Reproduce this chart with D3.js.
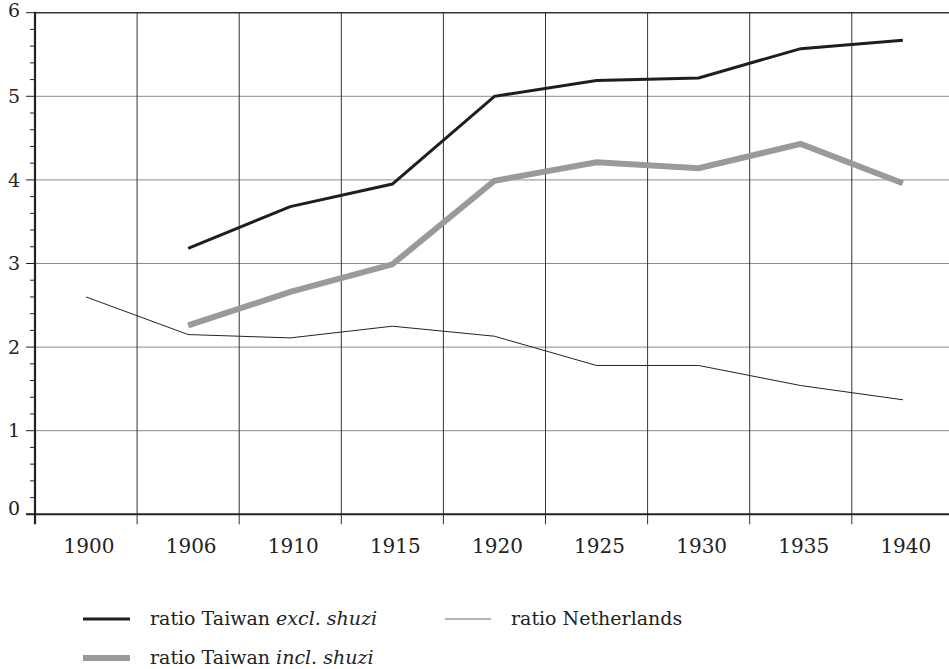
<!DOCTYPE html>
<html>
<head>
<meta charset="utf-8">
<script src="https://cdn.jsdelivr.net/npm/d3@7"></script>
<style>
  body { margin: 0; background: #fff; }
  text { font-family: "DejaVu Serif", "Liberation Serif", serif; fill: #222; }
</style>
</head>
<body>
<div id="chart"></div>
<script>
// jaren en waarden
const years = ["1900", "1906", "1910", "1915", "1920", "1925", "1930", "1935", "1940"]
const taiwanExcl = [null, 3.18, 3.68, 3.95, 5.0, 5.19, 5.22, 5.57, 5.67]
const taiwanIncl = [null, 2.26, 2.66, 2.99, 3.99, 4.21, 4.14, 4.43, 3.96]
const netherlands = [2.6, 2.15, 2.11, 2.25, 2.13, 1.78, 1.78, 1.54, 1.37]
const yTicks = [0, 1, 2, 3, 4, 5, 6]

let width = 949, height = 669
let margin = { top: 12.7, left: 35, bottom: 514.3 }

let svg = d3.select("#chart")
    .append("svg")
    .attr("width", width)
    .attr("height", height)

let x = d3.scaleBand()
    .domain(years)
    .range([margin.left, margin.left + 9 * 102.1])

let y = d3.scaleLinear()
    .domain([0, 6])
    .range([margin.bottom, margin.top])

// horizontale rasterlijnen
svg.selectAll(".hgrid")
    .data(yTicks.slice(1))
    .enter()
    .append("line")
    .attr("x1", margin.left)
    .attr("x2", width)
    .attr("y1", d => y(d))
    .attr("y2", d => y(d))
    .attr("stroke", d => d === 6 ? "#333" : "#8a8a8a")
    .attr("stroke-width", d => d === 6 ? 1.6 : 1)

// verticale lijnen op de bandgrenzen
let bounds = years.slice(1).map(d => x(d))
svg.selectAll(".vgrid")
    .data(bounds)
    .enter()
    .append("line")
    .attr("x1", d => d)
    .attr("x2", d => d)
    .attr("y1", margin.top)
    .attr("y2", margin.bottom + 10)
    .attr("stroke", "#333")
    .attr("stroke-width", 1)

// y-as met kleine streepjes
let minor = d3.range(0, 6.01, 0.2)
svg.selectAll(".ytick")
    .data(minor)
    .enter()
    .append("line")
    .attr("x1", d => Math.abs(d - Math.round(d)) < 0.01 ? margin.left - 9 : margin.left - 5)
    .attr("x2", margin.left)
    .attr("y1", d => y(d))
    .attr("y2", d => y(d))
    .attr("stroke", "#222")
    .attr("stroke-width", 1)

svg.append("line")
    .attr("x1", margin.left)
    .attr("x2", margin.left)
    .attr("y1", margin.top - 1)
    .attr("y2", margin.bottom + 10)
    .attr("stroke", "#222")
    .attr("stroke-width", 2.2)

svg.append("line")
    .attr("x1", margin.left - 9)
    .attr("x2", width)
    .attr("y1", margin.bottom)
    .attr("y2", margin.bottom)
    .attr("stroke", "#222")
    .attr("stroke-width", 2)

svg.selectAll(".ylab")
    .data(yTicks)
    .enter()
    .append("text")
    .attr("x", 14)
    .attr("y", d => y(d))
    .attr("dy", d => d === 0 ? "0.05em" : d === 6 ? "0.2em" : "0.35em")
    .attr("text-anchor", "middle")
    .style("font-size", "19px")
    .text(d => d)

svg.selectAll(".xlab")
    .data(years)
    .enter()
    .append("text")
    .attr("x", d => x(d) + x.bandwidth() / 2 + 3)
    .attr("y", 553)
    .attr("text-anchor", "middle")
    .style("font-size", "20px")
    .text(d => d)

// lijnen
let series = [
    { name: "excl", values: taiwanExcl, color: "#1e1e1e", w: 3 },
    { name: "incl", values: taiwanIncl, color: "#9a9a9c", w: 6 },
    { name: "nl", values: netherlands, color: "#222", w: 1 }
]

let line = d3.line()
    .defined(d => d.v !== null)
    .x(d => x(d.year) + x.bandwidth() / 2)
    .y(d => y(d.v))

svg.selectAll(".series")
    .data(series)
    .enter()
    .append("path")
    .attr("d", s => line(years.map((yr, i) => ({ year: yr, v: s.values[i] }))))
    .attr("fill", "none")
    .attr("stroke", s => s.color)
    .attr("stroke-width", s => s.w)
    .attr("stroke-linejoin", "miter")

// legenda
let legend = [
    { x: 83, y: 619, s: series[0], pre: "ratio Taiwan ", it: "excl. shuzi" },
    { x: 83, y: 658, s: series[1], pre: "ratio Taiwan ", it: "incl. shuzi" },
    { x: 445, y: 619, s: series[2], pre: "ratio Netherlands", it: "" }
]
let lg = svg.selectAll(".legend")
    .data(legend)
    .enter()
    .append("g")
    .attr("transform", d => "translate(" + d.x + "," + d.y + ")")

lg.append("line")
    .attr("x1", 0)
    .attr("x2", d => d.s.name === "nl" ? 46 : 47)
    .attr("y1", 0)
    .attr("y2", 0)
    .attr("stroke", d => d.s.name === "nl" ? "#666" : d.s.color)
    .attr("stroke-width", d => d.s.w)

let lt = lg.append("text")
    .attr("x", d => d.s.name === "nl" ? 66 : 67)
    .attr("y", 0)
    .attr("dy", "0.32em")
    .style("font-size", "19px")
lt.append("tspan").text(d => d.pre)
lt.append("tspan").style("font-style", "italic").text(d => d.it)
</script>
</body>
</html>
